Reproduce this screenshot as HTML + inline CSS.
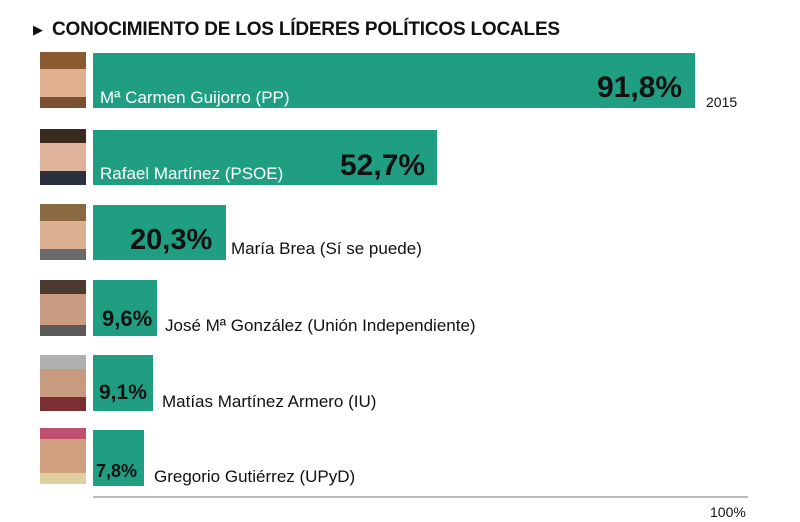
<!DOCTYPE html>
<html><head><meta charset="utf-8"><style>
body{margin:0;width:800px;height:522px;background:#fff;position:relative;overflow:hidden;font-family:"Liberation Sans",sans-serif;color:#111}
.a{position:absolute;white-space:nowrap}
.bar{position:absolute;background:#1f9e82;left:93px}
.ph{position:absolute;left:40px;width:46px;height:56px}
.v{font-weight:bold}
.n{font-size:17px}
</style></head><body>
<div class="a" style="left:33px;top:22px;font-size:13px">&#9654;</div>
<div class="a" style="left:52px;top:19px;font-size:19px;font-weight:bold;letter-spacing:-0.2px">CONOCIMIENTO DE LOS LÍDERES POLÍTICOS LOCALES</div>

<div class="ph" style="top:52px;background:linear-gradient(#8a5a30 0 30%,#e0b090 30% 80%,#7a5030 80%)"></div>
<div class="bar" style="top:53px;width:602px;height:55px"></div>
<div class="a n" style="left:100px;top:88px;color:#fff">Mª Carmen Guijorro (PP)</div>
<div class="a v" style="left:597px;top:71px;font-size:30px">91,8%</div>
<div class="a" style="left:706px;top:94px;font-size:14px">2015</div>

<div class="ph" style="top:129px;background:linear-gradient(#3a2a20 0 25%,#e0b49a 25% 75%,#2a3040 75%)"></div>
<div class="bar" style="top:130px;width:344px;height:55px"></div>
<div class="a n" style="left:100px;top:164px;color:#fff">Rafael Martínez (PSOE)</div>
<div class="a v" style="left:340px;top:149px;font-size:30px">52,7%</div>

<div class="ph" style="top:204px;background:linear-gradient(#8a6a40 0 30%,#dcb090 30% 80%,#6a6a6a 80%)"></div>
<div class="bar" style="top:205px;width:133px;height:55px"></div>
<div class="a v" style="left:130px;top:224px;font-size:29px">20,3%</div>
<div class="a n" style="left:231px;top:239px">María Brea (Sí se puede)</div>

<div class="ph" style="top:280px;background:linear-gradient(#4a3a30 0 25%,#c89a80 25% 80%,#5a5a5a 80%)"></div>
<div class="bar" style="top:280px;width:64px;height:56px"></div>
<div class="a v" style="left:102px;top:306px;font-size:22px">9,6%</div>
<div class="a n" style="left:165px;top:316px">José Mª González (Unión Independiente)</div>

<div class="ph" style="top:355px;background:linear-gradient(#b0b0b0 0 25%,#c89a80 25% 75%,#7a3030 75%)"></div>
<div class="bar" style="top:355px;width:60px;height:56px"></div>
<div class="a v" style="left:99px;top:381px;font-size:21px">9,1%</div>
<div class="a n" style="left:162px;top:392px">Matías Martínez Armero (IU)</div>

<div class="ph" style="top:428px;background:linear-gradient(#c05070 0 20%,#d0a080 20% 80%,#e0d0a0 80%)"></div>
<div class="bar" style="top:430px;width:51px;height:56px"></div>
<div class="a v" style="left:96px;top:461px;font-size:18px">7,8%</div>
<div class="a n" style="left:154px;top:467px">Gregorio Gutiérrez (UPyD)</div>

<div class="a" style="left:93px;top:496px;width:655px;height:2px;background:#bbb"></div>
<div class="a" style="left:710px;top:504px;font-size:14px">100%</div>
</body></html>
